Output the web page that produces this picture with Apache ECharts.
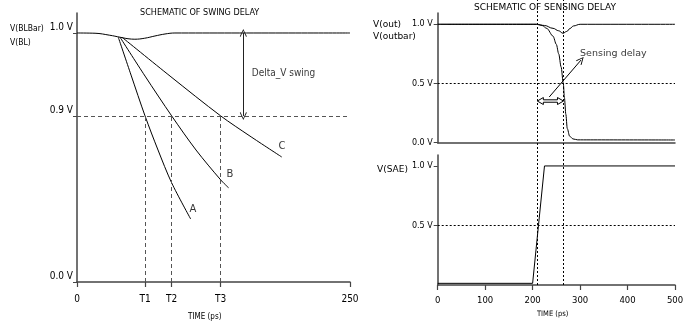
<!DOCTYPE html>
<html><head><meta charset="utf-8">
<script src="https://cdn.jsdelivr.net/npm/echarts@6/dist/echarts.min.js"></script>
<style>html,body{margin:0;padding:0;background:#fff}#c{width:700px;height:326px}</style>
</head><body><div id="c"></div>
<script>
// ---------- Left panel: schematic of swing delay (schematic y units; 0.9 V level drawn at 0.667) ----------
const swingXTicks = [0, 62.3, 86.7, 131.6, 250];
const swingXLabels = ['0', 'T1', 'T2', 'T3', '250'];
const swingYTicks = [0, 0.667, 1.0];
const swingYLabels = ['0.0 V', '0.9 V', '1.0 V'];
const blBase = [[0,1],[16.5,0.999],[30,0.991],[39.4,0.983],[46.7,0.977],[53,0.975],[62,0.979],[71.4,0.988],[80.6,0.996],[89.7,1],[250,1]];
const curveA = [[37.8,0.983],[49.5,0.831],[62.3,0.667],[74.2,0.530],[86.7,0.398],[104.1,0.253]];
const curveB = [[39.4,0.983],[62.3,0.827],[86.7,0.667],[109,0.530],[131.6,0.410],[138.9,0.378]];
const curveC = [[41.2,0.983],[85.2,0.827],[131.6,0.667],[158.4,0.586],[187.5,0.502]];
const curveLabels = [['A',106.2,0.293],['B',140.1,0.434],['C',187.7,0.546]];
const swingLevel = 0.667;
const deltaArrowT = 152.3;

// ---------- Right panels: schematic of sensing delay ----------
const senseXTicks = [0, 100, 200, 300, 400, 500];
const vOut = [[0,1],[208,1],[225,0.99],[243,0.966],[255,0.945],[264,0.924],[272,0.94],[279,0.965],[286,0.986],[300,1],[500,1]];
const vOutbar = [[0,1],[208,1],[220,0.99],[230,0.965],[243,0.9],[250,0.83],[255,0.75],[260,0.64],[264.7,0.5],[267,0.38],[270,0.24],[273,0.12],[278,0.055],[285,0.032],[295,0.024],[500,0.023]];
const vSAE = [[0,0.014],[200,0.014],[225,1],[500,1]];
const delayMarkers = [210, 265];
const delayArrow = [210, 265, 0.352];
const pointerArrow = [[235,0.386],[302,0.698]];
const pointerText = ['Sensing delay', 300, 0.749];

const COND = 'DejaVu Sans Condensed';
const REG = 'DejaVu Sans';
const AX = '#444';
const chevron = 'path://M5,0 L10,9 L9,10 L5,2.2 L1,10 L0,9 Z';

const chart = echarts.init(document.getElementById('c'), null, {renderer:'canvas'});

function lineS(data, xi, extra) {
  return Object.assign({type:'line', data, xAxisIndex:xi, yAxisIndex:xi, showSymbol:false, symbol:'none',
    lineStyle:{color:'#000', width:1}, silent:true, animation:false, z:3}, extra||{});
}
function txt(text, left, top, fam, size) {
  return {text, left, top, padding:0, textStyle:{fontFamily:fam, fontSize:size, fontWeight:'normal', color:'#000'}};
}

const option = {
  animation:false,
  title:[
    txt('SCHEMATIC OF SWING DELAY', 140, 8, COND, 9),
    txt('SCHEMATIC OF SENSING DELAY', 474, 3, REG, 9),
    txt('V(BLBar)', 10, 24, COND, 8.5),
    txt('V(BL)', 10, 38, COND, 8.5),
    txt('TIME (ps)', 188, 313, COND, 8),
    txt('V(out)', 373, 20, REG, 9),
    txt('V(outbar)', 373, 32, REG, 9),
    txt('V(SAE)', 377, 165, REG, 9),
    txt('TIME (ps)', 537, 310, COND, 7.5)
  ],
  grid:[
    {left:77, top:13, width:273, height:269},
    {left:437.7, top:13, width:237.3, height:129.7},
    {left:437.7, top:155, width:237.3, height:130},
    {left:437.7, top:0, width:237.3, height:285}
  ],
  xAxis:[
    {gridIndex:0, type:'value', min:0, max:250, splitLine:{show:false},
      axisLine:{lineStyle:{color:AX, width:1.5}},
      axisTick:{customValues:swingXTicks, length:5, lineStyle:{color:AX, width:1.2}},
      axisLabel:{customValues:swingXTicks, formatter:v=>swingXLabels[swingXTicks.indexOf(v)], fontFamily:COND, fontSize:10, color:'#000', margin:12}},
    {gridIndex:1, type:'value', min:0, max:500, splitLine:{show:false},
      axisLine:{lineStyle:{color:AX, width:1.5}}, axisTick:{show:false}, axisLabel:{show:false}},
    {gridIndex:2, type:'value', min:0, max:500, interval:100, splitLine:{show:false},
      axisLine:{lineStyle:{color:AX, width:1.5}},
      axisTick:{length:5, lineStyle:{color:AX, width:1.2}},
      axisLabel:{fontFamily:REG, fontSize:8.5, color:'#000', margin:11}},
    {gridIndex:3, type:'value', min:0, max:500, show:false}
  ],
  yAxis:[
    {gridIndex:0, type:'value', min:0, max:1.0803, splitLine:{show:false},
      axisLine:{show:true, lineStyle:{color:AX, width:1.5}},
      axisTick:{show:true, customValues:swingYTicks, length:4, lineStyle:{color:AX}},
      axisLabel:{customValues:swingYTicks, formatter:v=>swingYLabels[swingYTicks.indexOf(v)], fontFamily:COND, fontSize:10, color:'#000', margin:4, verticalAlign:'bottom', lineHeight:12}},
    {gridIndex:1, type:'value', min:0, max:1.0954, splitLine:{show:false},
      axisLine:{show:true, lineStyle:{color:AX, width:1.5}},
      axisTick:{show:true, customValues:[0,0.5,1], length:4, lineStyle:{color:AX}},
      axisLabel:{customValues:[0,0.5,1], formatter:v=>v.toFixed(1)+' V', fontFamily:REG, fontSize:8, color:'#000', margin:5}},
    {gridIndex:2, type:'value', min:0, max:1.092, splitLine:{show:false},
      axisLine:{show:true, lineStyle:{color:AX, width:1.5}},
      axisTick:{show:true, customValues:[0.5,1], length:4, lineStyle:{color:AX}},
      axisLabel:{customValues:[0.5,1], formatter:v=>v.toFixed(1)+' V', fontFamily:REG, fontSize:8, color:'#000', margin:5}},
    {gridIndex:3, type:'value', min:0, max:1, show:false}
  ],
  series:[
    lineS(blBase, 0, {smooth:0.4,
      markLine:{silent:true, symbol:'none', animation:false, label:{show:false},
        lineStyle:{color:'#555', type:[4,3], width:1},
        data:[
          [{coord:[0,swingLevel]},{coord:[250,swingLevel]}],
          [{coord:[swingXTicks[1],0]},{coord:[swingXTicks[1],swingLevel]}],
          [{coord:[swingXTicks[2],0]},{coord:[swingXTicks[2],swingLevel]}],
          [{coord:[swingXTicks[3],0]},{coord:[swingXTicks[3],swingLevel]}]
        ]}}),
    lineS(curveA, 0, {smooth:0.3}),
    lineS(curveB, 0, {smooth:0.3}),
    lineS(curveC, 0, {smooth:0.3,
      markLine:{silent:true, animation:false, symbol:[chevron, chevron], symbolSize:[7,8], label:{show:false},
        lineStyle:{color:'#222', type:'solid', width:1},
        data:[[{coord:[deltaArrowT,1]},{coord:[deltaArrowT,swingLevel]}]]}}),
    {type:'scatter', xAxisIndex:0, yAxisIndex:0, symbolSize:0, silent:true, animation:false,
      data:curveLabels.map(d=>({value:[d[1],d[2]], name:d[0]})),
      label:{show:true, position:'inside', formatter:p=>p.name, fontFamily:REG, fontSize:10, color:'#000'}},
    {type:'scatter', xAxisIndex:0, yAxisIndex:0, symbolSize:0, silent:true, animation:false,
      data:[{value:[160,0.838], name:'Delta_V swing'}],
      label:{show:true, position:'right', distance:0, formatter:p=>p.name, fontFamily:COND, fontSize:10, color:'#000'}},

    lineS(vOut, 1, {smooth:0.4, smoothMonotone:'x',
      markLine:{silent:true, symbol:'none', animation:false, label:{show:false},
        lineStyle:{color:'#000', type:[2,2], width:1},
        data:[[{coord:[0,0.5]},{coord:[500,0.5]}]]}}),
    lineS(vOutbar, 1, {smooth:0.3, smoothMonotone:'x',
      markLine:{silent:true, animation:false, symbol:['none', chevron], symbolSize:[7,8], label:{show:false},
        lineStyle:{color:'#000', type:'solid', width:1},
        data:[[{coord:pointerArrow[0]},{coord:pointerArrow[1]}]]}}),
    {type:'custom', xAxisIndex:1, yAxisIndex:1, silent:true, animation:false, data:[delayArrow],
      renderItem:function(params, api){
        const a = api.coord([api.value(0), api.value(2)]);
        const b = api.coord([api.value(1), api.value(2)]);
        const y = a[1], x0 = a[0], x1 = b[0], h = 6, w = 3.5, s = 1.2;
        return {type:'polygon', shape:{points:[[x0,y],[x0+h,y-w],[x0+h,y-s],[x1-h,y-s],[x1-h,y-w],[x1,y],[x1-h,y+w],[x1-h,y+s],[x0+h,y+s],[x0+h,y+w]]},
          style:{fill:'#fff', stroke:'#000', lineWidth:1}};
      }},
    {type:'scatter', xAxisIndex:1, yAxisIndex:1, symbolSize:0, silent:true, animation:false,
      data:[{value:[pointerText[1],pointerText[2]], name:pointerText[0]}],
      label:{show:true, position:'right', distance:0, formatter:p=>p.name, fontFamily:REG, fontSize:9.5, color:'#000'}},

    lineS(vSAE, 2, {
      markLine:{silent:true, symbol:'none', animation:false, label:{show:false},
        lineStyle:{color:'#000', type:[2,2], width:1},
        data:[[{coord:[0,0.5]},{coord:[500,0.5]}]]}}),

    {type:'line', xAxisIndex:3, yAxisIndex:3, data:[], silent:true, animation:false,
      markLine:{silent:true, symbol:'none', animation:false, label:{show:false},
        lineStyle:{color:'#000', type:[2,2], width:1},
        data:delayMarkers.map(t=>({xAxis:t}))}}
  ]
};
chart.setOption(option);
</script></body></html>
